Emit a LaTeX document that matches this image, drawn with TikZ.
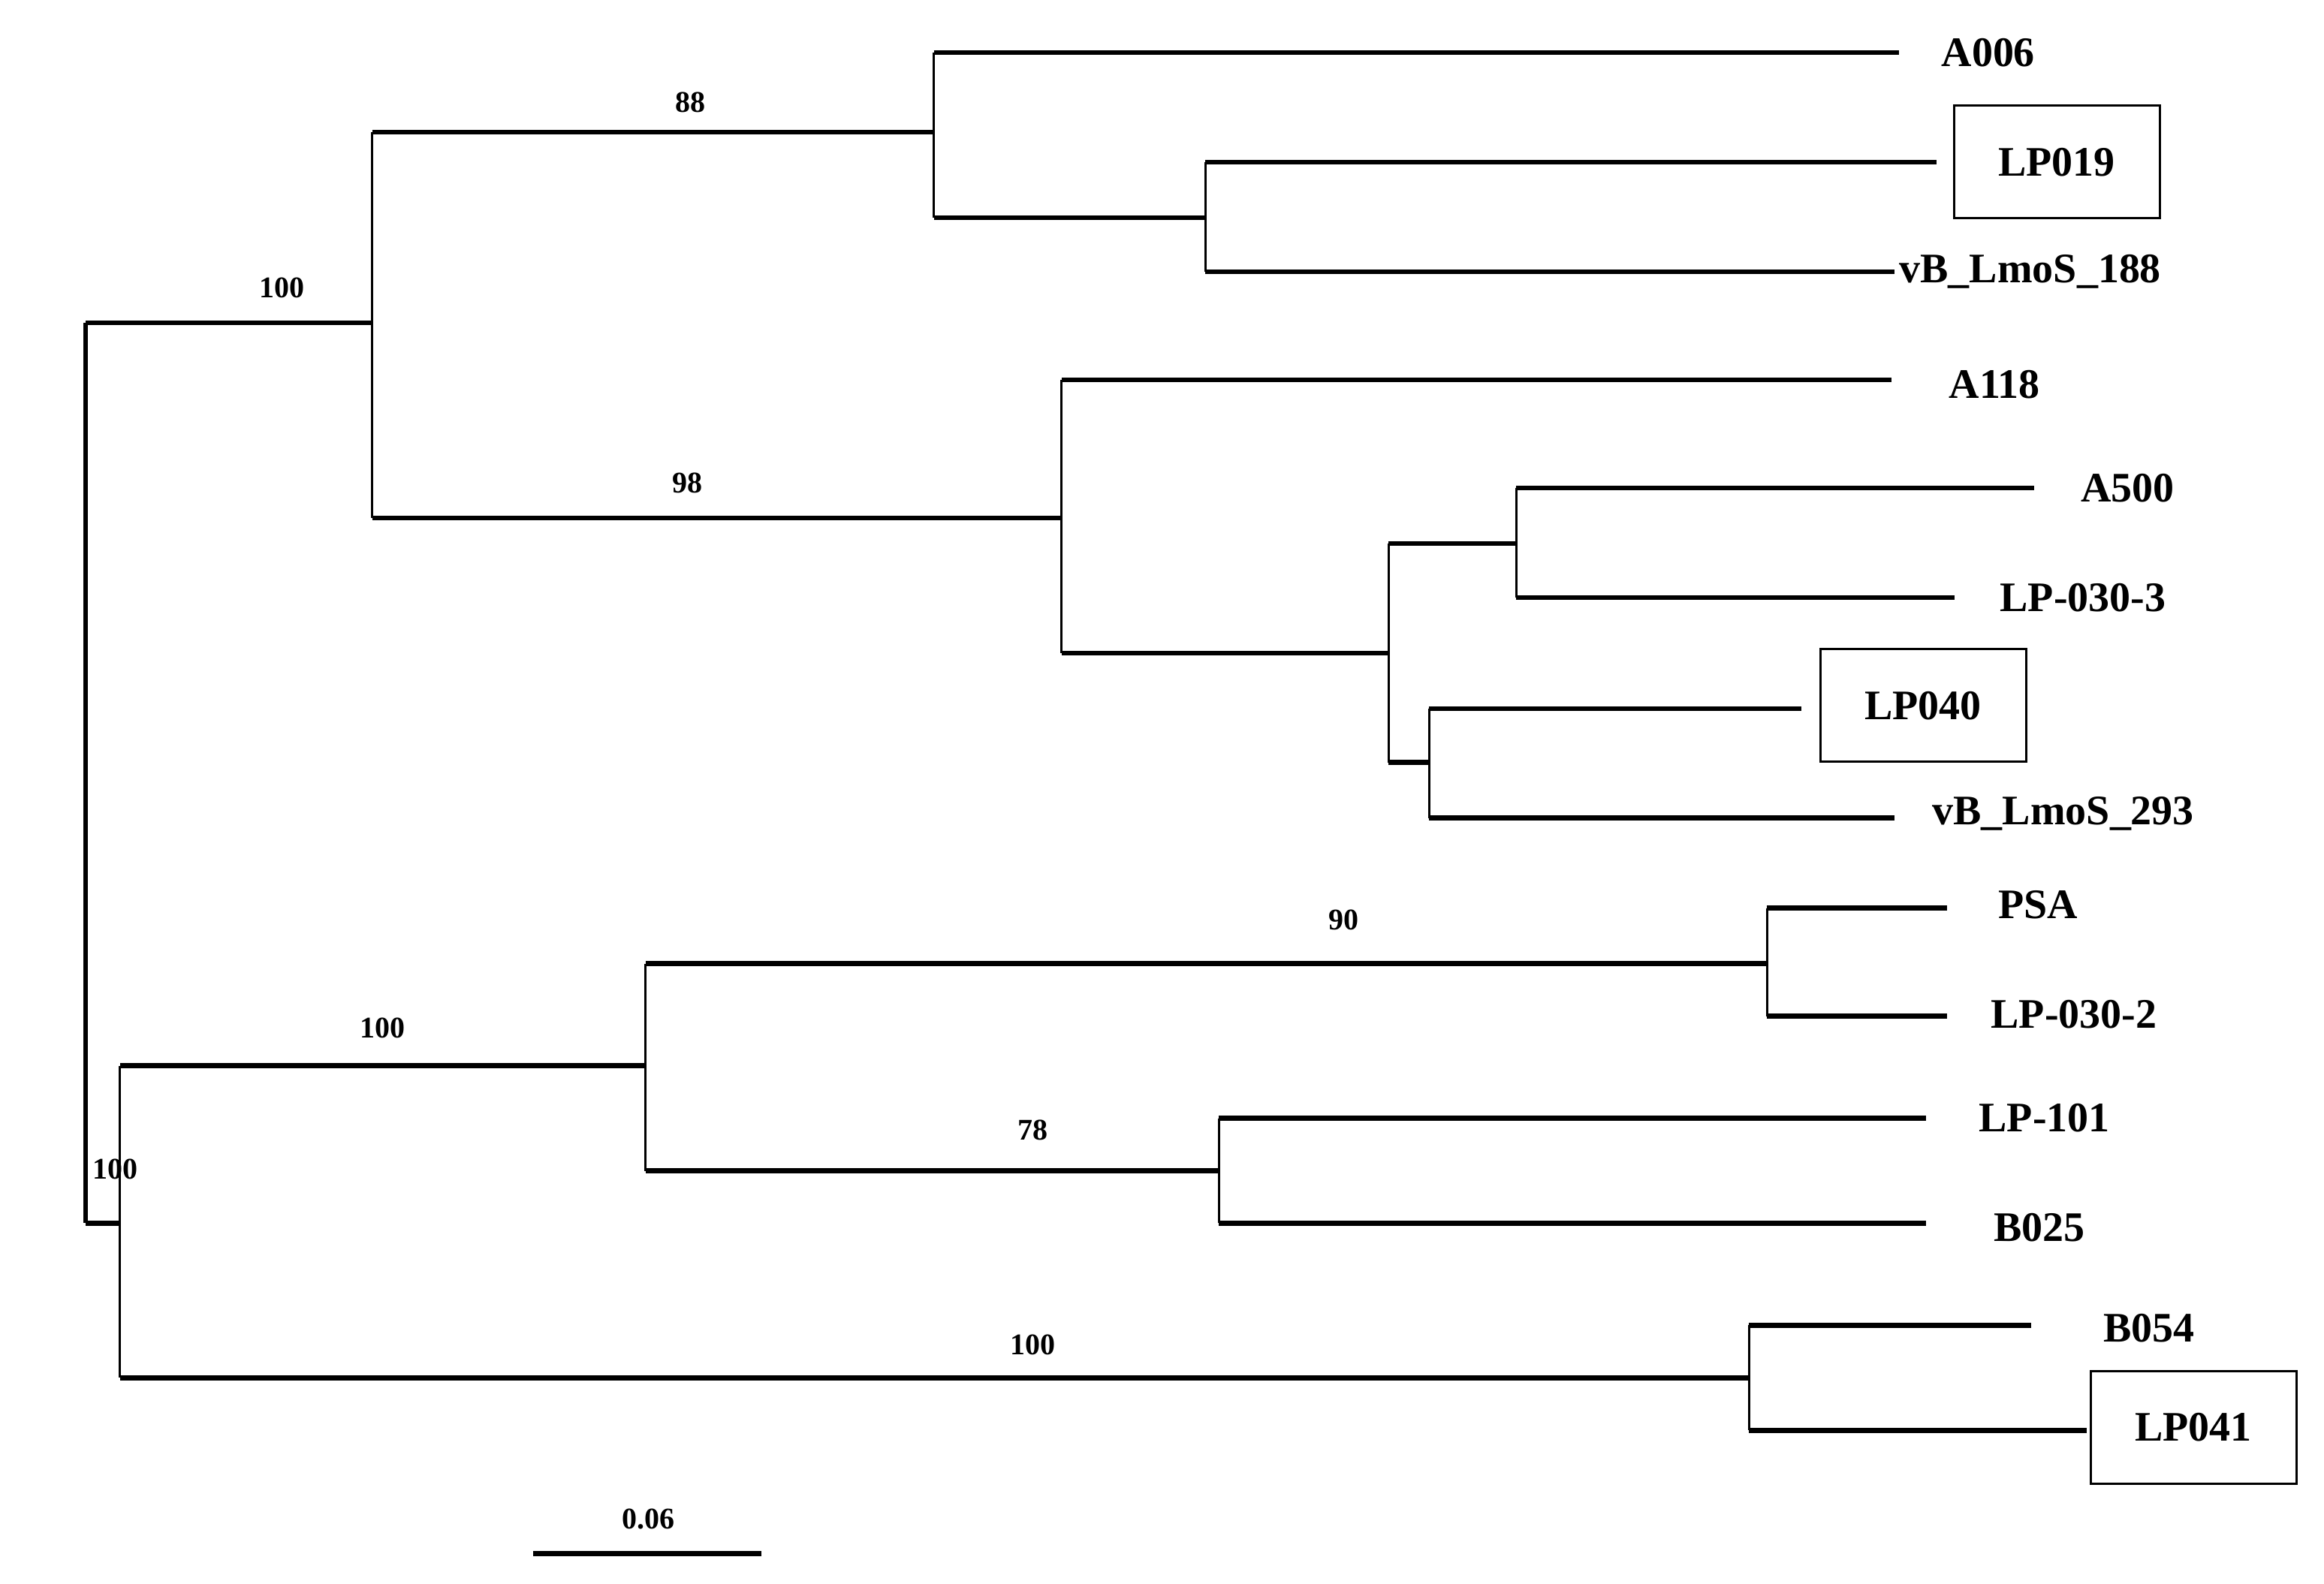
\documentclass[tikz,border=0pt]{standalone}
\usepackage{fontspec}
\setmainfont{Liberation Serif}
\begin{document}
\begin{tikzpicture}[x=1pt,y=-1pt,
 h/.style={line width=3.2pt},
 v/.style={line width=1.5pt},
 lf/.style={anchor=west,font=\fontsize{28}{30}\selectfont\bfseries,inner sep=0pt},
 bx/.style={draw,line width=1.5pt,font=\fontsize{28}{30}\selectfont\bfseries,minimum width=137pt,minimum height=75pt},
 bs/.style={font=\fontsize{20}{22}\selectfont\bfseries,inner sep=0pt}]
\useasboundingbox (0,0) rectangle (1548,1055);
% internal coords
\coordinate (r1) at (57,215); \coordinate (r2) at (57,815);
\coordinate (a) at (248,215); \coordinate (b) at (80,815);
\coordinate (a1) at (248,88); \coordinate (a2) at (248,345);
\coordinate (c) at (622,88); \coordinate (c1) at (622,35); \coordinate (c2) at (622,145);
\coordinate (d) at (803,145); \coordinate (d1) at (803,108); \coordinate (d2) at (803,181);
\coordinate (e) at (707,345); \coordinate (e1) at (707,253); \coordinate (e2) at (707,435);
\coordinate (f) at (925,435); \coordinate (f1) at (925,362); \coordinate (f2) at (925,508);
\coordinate (g) at (1010,362); \coordinate (g1) at (1010,325); \coordinate (g2) at (1010,398);
\coordinate (k) at (952,508); \coordinate (k1) at (952,472); \coordinate (k2) at (952,545);
\coordinate (b1) at (80,710); \coordinate (b2) at (80,918);
\coordinate (m) at (430,710); \coordinate (m1) at (430,642); \coordinate (m2) at (430,780);
\coordinate (n) at (1177,642); \coordinate (n1) at (1177,605); \coordinate (n2) at (1177,677);
\coordinate (o) at (812,780); \coordinate (o1) at (812,745); \coordinate (o2) at (812,815);
\coordinate (p) at (1165,918); \coordinate (p1) at (1165,883); \coordinate (p2) at (1165,953);
% leaf ends
\coordinate (A006) at (1265,35); \coordinate (LP019) at (1290,108); \coordinate (V188) at (1262,181);
\coordinate (A118) at (1260,253); \coordinate (A500) at (1355,325); \coordinate (L303) at (1302,398);
\coordinate (LP040) at (1200,472); \coordinate (V293) at (1262,545);
\coordinate (PSA) at (1297,605); \coordinate (L302) at (1297,677);
\coordinate (L101) at (1283,745); \coordinate (B025) at (1283,815);
\coordinate (B054) at (1353,883); \coordinate (LP041) at (1390,953);
% verticals
\draw[line width=3pt] (r1) -- (r2);
\foreach \u/\w in {a1/a2,c1/c2,d1/d2,e1/e2,f1/f2,g1/g2,k1/k2,b1/b2,m1/m2,n1/n2,o1/o2,p1/p2}
 \draw[v] (\u) -- (\w);
% horizontals
\foreach \u/\w in {r1/a,r2/b,a1/c,c1/A006,c2/d,d1/LP019,d2/V188,a2/e,e1/A118,e2/f,f1/g,g1/A500,g2/L303,f2/k,k1/LP040,k2/V293,b1/m,m1/n,n1/PSA,n2/L302,m2/o,o1/L101,o2/B025,b2/p,p1/B054,p2/LP041}
 \draw[h] (\u) -- (\w);
% labels
\node[lf] at (1293,35) {A006};
\node[bx] at (1370,108) {LP019};
\node[lf] at (1265,181) {vB\_LmoS\_188};
\node[lf] at (1298,256) {A118};
\node[lf] at (1386,325) {A500};
\node[lf] at (1332,398) {LP-030-3};
\node[bx] at (1281,470) {LP040};
\node[lf] at (1287,542) {vB\_LmoS\_293};
\node[lf] at (1331,603) {PSA};
\node[lf] at (1326,676) {LP-030-2};
\node[lf] at (1318,745) {LP-101};
\node[lf] at (1328,818) {B025};
\node[lf] at (1401,885) {B054};
\node[bx] at (1461,951) {LP041};
% bootstrap
\node[bs] at (460,68) {88};
\node[bs] at (188,192) {100};
\node[bs] at (458,322) {98};
\node[bs] at (895,613) {90};
\node[bs] at (255,685) {100};
\node[bs] at (77,779) {100};
\node[bs] at (688,753) {78};
\node[bs] at (688,896) {100};
% scale bar
\coordinate (s1) at (355,1035); \coordinate (s2) at (507,1035);
\draw[h] (s1) -- (s2);
\node[bs] at (432,1012) {0.06};
\end{tikzpicture}
\end{document}
